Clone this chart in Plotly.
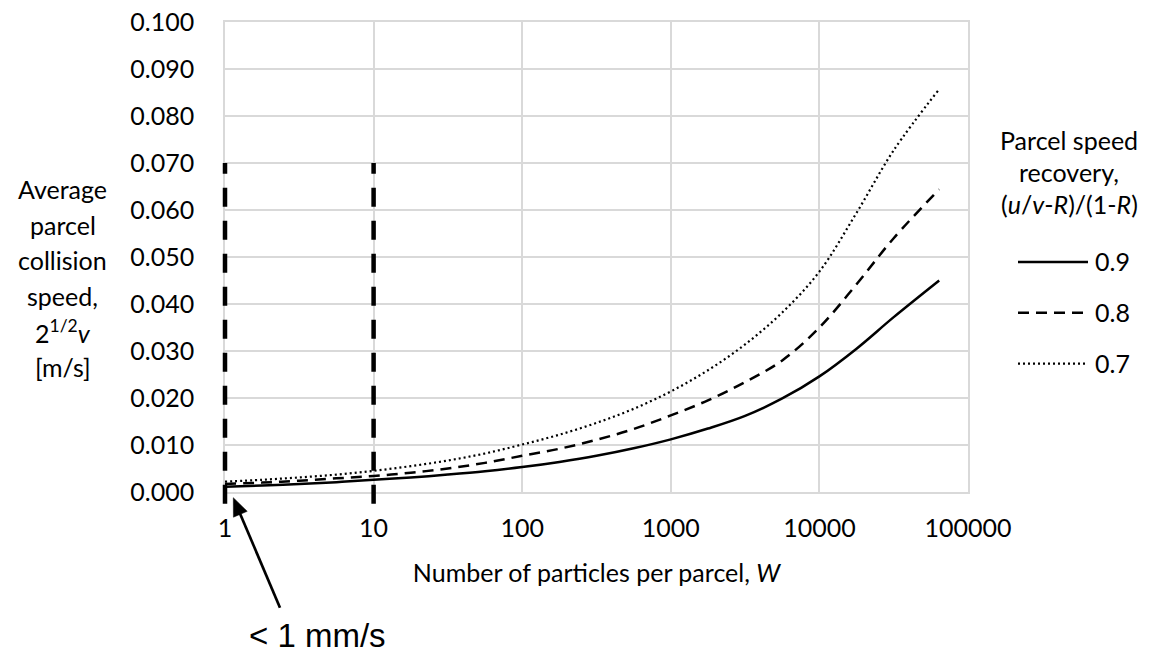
import math
import plotly.graph_objects as go

# Number of particles per parcel, W
W = [1, 1.78, 3.16, 5.62, 10, 17.8, 31.6, 56.2, 100, 178, 316, 562,
     1000, 1778, 3162, 5623, 10000, 17783, 31623, 64000]

# Average parcel collision speed 2^(1/2) v [m/s] for each parcel speed recovery
speed_09 = [0.0011, 0.0014, 0.0017, 0.0021, 0.0026, 0.0031, 0.0037, 0.0044, 0.0053, 0.0064,
            0.0077, 0.0093, 0.0112, 0.0135, 0.0162, 0.0199, 0.0246, 0.0305, 0.0372, 0.0450]
speed_08 = [0.0017, 0.0020, 0.0024, 0.0029, 0.0034, 0.0041, 0.0050, 0.0062, 0.0077, 0.0092,
            0.0111, 0.0134, 0.0163, 0.0195, 0.0234, 0.0280, 0.0350, 0.0442, 0.0540, 0.0644]
speed_07 = [0.0022, 0.0026, 0.0031, 0.0037, 0.0045, 0.0055, 0.0067, 0.0082, 0.0101, 0.0122,
            0.0147, 0.0177, 0.0214, 0.0259, 0.0314, 0.0382, 0.0469, 0.0594, 0.0727, 0.0857]

recovery_labels = ["0.9", "0.8", "0.7"]
x_ticks = [1, 10, 100, 1000, 10000, 100000]
x_tick_text = ["1", "10", "100", "1000", "10000", "100000"]

# W values marked by vertical dashed lines and their vertical extent [m/s]
marker_W = [1, 10]
marker_top = 0.070
marker_bottom = -0.0025

X_MIN, X_MAX = 1, 100000
Y_MIN, Y_MAX = 0.0, 0.100

FONT = "Lato"
GRID = "#d9d9d9"

# figure geometry (pixels)
FIG_W, FIG_H = 1150, 657
M_L, M_R, M_T, M_B = 225, 182, 22, 165
PLOT_W = FIG_W - M_L - M_R
PLOT_H = FIG_H - M_T - M_B


def px_x(px):
    """Horizontal pixel -> paper fraction."""
    return (px - M_L) / PLOT_W


def px_y(py):
    """Vertical pixel (from top) -> paper fraction."""
    return (FIG_H - M_B - py) / PLOT_H


series = [speed_09, speed_08, speed_07]
dashes = ["solid", "11px,7px", "2px,3px"]
widths = [2.5, 2.5, 2.2]

fig = go.Figure()
for vals, name, dash, w in zip(series, recovery_labels, dashes, widths):
    fig.add_trace(go.Scatter(
        x=W, y=vals, mode="lines", name=name,
        line=dict(color="black", width=w, dash=dash, shape="spline", smoothing=1.0),
        showlegend=False,
    ))


def x_frac(w):
    return (math.log10(w) - math.log10(X_MIN)) / (math.log10(X_MAX) - math.log10(X_MIN))


def y_frac(v):
    return (v - Y_MIN) / (Y_MAX - Y_MIN)


shapes = []
for mw in marker_W:
    xf = x_frac(mw)
    shapes.append(dict(
        type="line", xref="x domain", yref="y domain",
        x0=xf, x1=xf, y0=y_frac(marker_bottom), y1=y_frac(marker_top),
        line=dict(color="black", width=4.5, dash="19px,14px"),
        layer="above",
    ))

annotations = []

# y-axis title, one annotation per line
ytitle_lines = ["Average", "parcel", "collision", "speed,", "2<sup>1/2</sup><i>v</i>", "[m/s]"]
for i, line in enumerate(ytitle_lines):
    annotations.append(dict(
        text=line, xref="paper", yref="paper",
        x=px_x(62.5), y=px_y(189 + i * 35.6),
        xanchor="center", yanchor="middle", showarrow=False,
        font=dict(family=FONT, size=25, color="black"),
    ))

# legend title
legend_title = ["Parcel speed", "recovery,", "(<i>u</i>/<i>v</i>-<i>R</i>)/(1-<i>R</i>)"]
for i, line in enumerate(legend_title):
    annotations.append(dict(
        text=line, xref="paper", yref="paper",
        x=px_x(1069), y=px_y(140 + i * 32),
        xanchor="center", yanchor="middle", showarrow=False,
        font=dict(family=FONT, size=25, color="black"),
    ))

# legend entries
for i, (name, dash, w) in enumerate(zip(recovery_labels, dashes, widths)):
    ypix = 262 + i * 50.8
    shapes.append(dict(
        type="line", xref="paper", yref="paper",
        x0=px_x(1018), x1=px_x(1088), y0=px_y(ypix), y1=px_y(ypix),
        line=dict(color="black", width=w, dash=dash),
    ))
    annotations.append(dict(
        text=name, xref="paper", yref="paper",
        x=px_x(1093), y=px_y(ypix - 1), xanchor="left", yanchor="middle",
        showarrow=False, font=dict(family=FONT, size=25, color="black"),
    ))

# arrow pointing at the W = 1 curves: shaft plus filled head
tip = (233.3, 497.7)
tail = (280.0, 607.7)
dx, dy = tip[0] - tail[0], tip[1] - tail[1]
L = math.hypot(dx, dy)
ux, uy = dx / L, dy / L
head_len, head_half = 18.0, 7.5
base = (tip[0] - head_len * ux, tip[1] - head_len * uy)
nx, ny = -uy, ux
c1 = (base[0] + head_half * nx, base[1] + head_half * ny)
c2 = (base[0] - head_half * nx, base[1] - head_half * ny)
shapes.append(dict(
    type="line", xref="paper", yref="paper",
    x0=px_x(tail[0]), y0=px_y(tail[1]),
    x1=px_x(base[0] + 2 * ux), y1=px_y(base[1] + 2 * uy),
    line=dict(color="black", width=2.7),
))
shapes.append(dict(
    type="path", xref="paper", yref="paper",
    path="M {} {} L {} {} L {} {} Z".format(
        px_x(tip[0]), px_y(tip[1]), px_x(c1[0]), px_y(c1[1]), px_x(c2[0]), px_y(c2[1])),
    fillcolor="black", line=dict(color="black", width=0.5),
))
annotations.append(dict(
    text="< 1 mm/s", xref="paper", yref="paper",
    x=px_x(317.5), y=px_y(635),
    xanchor="center", yanchor="middle", showarrow=False,
    font=dict(family="Liberation Sans, Arial", size=33, color="black"),
))

fig.update_layout(
    width=FIG_W, height=FIG_H,
    margin=dict(l=M_L, r=M_R, t=M_T, b=M_B),
    paper_bgcolor="white", plot_bgcolor="white",
    font=dict(family=FONT, size=25, color="black"),
    shapes=shapes, annotations=annotations,
    showlegend=False,
)
fig.update_xaxes(
    type="log", range=[math.log10(X_MIN), math.log10(X_MAX)],
    tickvals=x_ticks, ticktext=x_tick_text,
    showgrid=True, gridcolor=GRID, gridwidth=1.6,
    showline=True, linecolor=GRID, linewidth=1.6, mirror=True,
    ticks="", ticklabelstandoff=13, zeroline=False,
    tickfont=dict(family=FONT, size=25, color="black"),
    title=dict(text="Number of particles per parcel, <i>W</i>",
               font=dict(family=FONT, size=25, color="black"), standoff=24),
    automargin=False,
)
fig.update_yaxes(
    range=[Y_MIN, Y_MAX], dtick=0.01, tickformat=".3f",
    showgrid=True, gridcolor=GRID, gridwidth=1.6,
    showline=True, linecolor=GRID, linewidth=1.6, mirror=True,
    ticks="", ticklabelstandoff=24, zeroline=False,
    tickfont=dict(family=FONT, size=25, color="black"),
    automargin=False,
)

fig.write_html("out.html")
